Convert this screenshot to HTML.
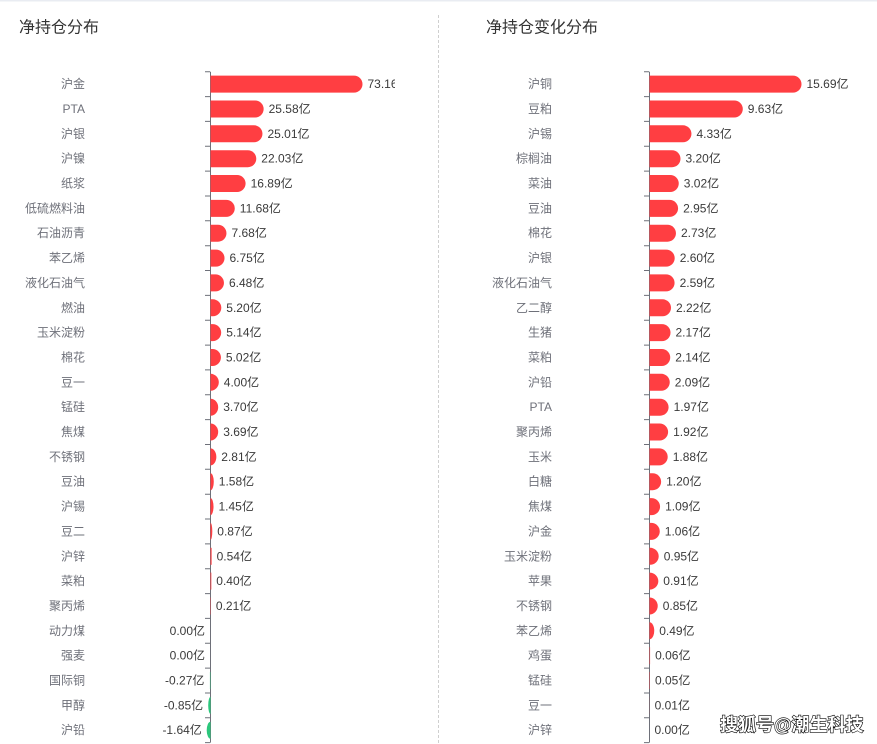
<!DOCTYPE html>
<html><head><meta charset="utf-8"><style>
html,body{margin:0;padding:0;background:#fff;}
svg{display:block;font-family:"Liberation Sans","Noto Sans CJK SC",sans-serif;}
.c{font-size:12px;fill:#6e7079;text-anchor:end;dominant-baseline:central;}
.v{font-size:12px;fill:#3a3a3a;dominant-baseline:central;}
.n{font-size:12px;fill:#3a3a3a;text-anchor:end;dominant-baseline:central;}
.r{fill:#ff3e42;}
.g{fill:#2cc77c;}
.t{font-size:16px;fill:#333;dominant-baseline:central;}
</style></head><body>
<svg width="877" height="744" viewBox="0 0 877 744" xmlns="http://www.w3.org/2000/svg">
<defs><clipPath id="lc"><rect x="0" y="0" width="395" height="744"/></clipPath></defs>
<rect x="0" y="0" width="877" height="744" fill="#fff"/>
<rect x="0" y="0" width="877" height="1.5" fill="#e9ecf2"/>
<line x1="438.5" y1="15" x2="438.5" y2="744" stroke="#cfcfcf" stroke-dasharray="3 2"/>
<text class="t" x="19" y="28">净持仓分布</text>
<text class="t" x="486" y="28">净持仓变化分布</text>

<!-- LEFT AXIS -->
<g stroke="#6e7079" stroke-width="1">
<line x1="210.5" y1="71.7" x2="210.5" y2="742.6"/>
<path d="M205 71.7H210M205 96.6H210M205 121.4H210M205 146.3H210M205 171.1H210M205 196H210M205 220.8H210M205 245.7H210M205 270.5H210M205 295.4H210M205 320.2H210M205 345.1H210M205 369.9H210M205 394.8H210M205 419.6H210M205 444.5H210M205 469.3H210M205 494.2H210M205 519H210M205 543.9H210M205 568.7H210M205 593.6H210M205 618.4H210M205 643.3H210M205 668.1H210M205 693H210M205 717.8H210M205 742.6H210"/>
</g>
<!-- RIGHT AXIS -->
<g stroke="#6e7079" stroke-width="1">
<line x1="649.5" y1="71.7" x2="649.5" y2="742.6"/>
<path d="M644 71.7H649M644 96.6H649M644 121.4H649M644 146.3H649M644 171.1H649M644 196H649M644 220.8H649M644 245.7H649M644 270.5H649M644 295.4H649M644 320.2H649M644 345.1H649M644 369.9H649M644 394.8H649M644 419.6H649M644 444.5H649M644 469.3H649M644 494.2H649M644 519H649M644 543.9H649M644 568.7H649M644 593.6H649M644 618.4H649M644 643.3H649M644 668.1H649M644 693H649M644 717.8H649M644 742.6H649"/>
</g>

<!-- LEFT CATEGORY LABELS -->
<g>
<text class="c" x="85" y="84.1">沪金</text>
<text class="c" x="85" y="109">PTA</text>
<text class="c" x="85" y="133.8">沪银</text>
<text class="c" x="85" y="158.7">沪镍</text>
<text class="c" x="85" y="183.5">纸浆</text>
<text class="c" x="85" y="208.4">低硫燃料油</text>
<text class="c" x="85" y="233.2">石油沥青</text>
<text class="c" x="85" y="258.1">苯乙烯</text>
<text class="c" x="85" y="282.9">液化石油气</text>
<text class="c" x="85" y="307.8">燃油</text>
<text class="c" x="85" y="332.6">玉米淀粉</text>
<text class="c" x="85" y="357.5">棉花</text>
<text class="c" x="85" y="382.3">豆一</text>
<text class="c" x="85" y="407.2">锰硅</text>
<text class="c" x="85" y="432">焦煤</text>
<text class="c" x="85" y="456.9">不锈钢</text>
<text class="c" x="85" y="481.7">豆油</text>
<text class="c" x="85" y="506.6">沪锡</text>
<text class="c" x="85" y="531.4">豆二</text>
<text class="c" x="85" y="556.3">沪锌</text>
<text class="c" x="85" y="581.1">菜粕</text>
<text class="c" x="85" y="606">聚丙烯</text>
<text class="c" x="85" y="630.8">动力煤</text>
<text class="c" x="85" y="655.7">强麦</text>
<text class="c" x="85" y="680.5">国际铜</text>
<text class="c" x="85" y="705.4">甲醇</text>
<text class="c" x="85" y="730.2">沪铅</text>
</g>

<!-- LEFT BARS -->
<g transform="translate(210.5,0)">
<path class="r" transform="translate(0,84.1)" d="M0 -8.5H143.5A8.5 8.5 0 0 1 143.5 8.5H0Z"/>
<path class="r" transform="translate(0,109)" d="M0 -8.5H44.65A8.5 8.5 0 0 1 44.65 8.5H0Z"/>
<path class="r" transform="translate(0,133.8)" d="M0 -8.5H43.46A8.5 8.5 0 0 1 43.46 8.5H0Z"/>
<path class="r" transform="translate(0,158.7)" d="M0 -8.5H37.27A8.5 8.5 0 0 1 37.27 8.5H0Z"/>
<path class="r" transform="translate(0,183.5)" d="M0 -8.5H26.59A8.5 8.5 0 0 1 26.59 8.5H0Z"/>
<path class="r" transform="translate(0,208.4)" d="M0 -8.5H15.77A8.5 8.5 0 0 1 15.77 8.5H0Z"/>
<path class="r" transform="translate(0,233.2)" d="M0 -8.5H7.46A8.5 8.5 0 0 1 7.46 8.5H0Z"/>
<path class="r" transform="translate(0,258.1)" d="M0 -8.5H5.52A8.5 8.5 0 0 1 5.52 8.5H0Z"/>
<path class="r" transform="translate(0,282.9)" d="M0 -8.5H4.96A8.5 8.5 0 0 1 4.96 8.5H0Z"/>
<path class="r" transform="translate(0,307.8)" d="M0 -8.5H2.3A8.5 8.5 0 0 1 2.3 8.5H0Z"/>
<path class="r" transform="translate(0,332.6)" d="M0 -8.5H2.18A8.5 8.5 0 0 1 2.18 8.5H0Z"/>
<path class="r" transform="translate(0,357.5)" d="M0 -8.5H1.93A8.5 8.5 0 0 1 1.93 8.5H0Z"/>
<path class="r" transform="translate(0,382.3)" d="M0 -8.5A8.31 8.5 0 0 1 0 8.5Z"/>
<path class="r" transform="translate(0,407.2)" d="M0 -8.5A7.69 8.5 0 0 1 0 8.5Z"/>
<path class="r" transform="translate(0,432)" d="M0 -8.5A7.67 8.5 0 0 1 0 8.5Z"/>
<path class="r" transform="translate(0,456.9)" d="M0 -8.5A5.84 8.5 0 0 1 0 8.5Z"/>
<path class="r" transform="translate(0,481.7)" d="M0 -8.5A3.28 8.5 0 0 1 0 8.5Z"/>
<path class="r" transform="translate(0,506.6)" d="M0 -8.5A3.01 8.5 0 0 1 0 8.5Z"/>
<path class="r" transform="translate(0,531.4)" d="M0 -8.5A1.81 8.5 0 0 1 0 8.5Z"/>
<rect class="r" x="0" y="547.8" width="1.12" height="17"/>
<rect class="r" x="0" y="572.6" width="0.83" height="17"/>
<rect class="r" x="0" y="597.5" width="0.44" height="17" opacity="0.8"/>
<rect class="g" x="-0.6" y="672" width="0.6" height="17" opacity="0.7"/>
<path class="g" transform="translate(0,705.4)" d="M0 -8.5A2.3 8.5 0 0 0 0 8.5Z"/>
<path class="g" transform="translate(0,730.2)" d="M0 -8.5A3.8 8.5 0 0 0 0 8.5Z"/>
</g>

<!-- LEFT VALUE LABELS -->
<g clip-path="url(#lc)">
<text class="v" x="367.5" y="84.1">73.16亿</text>
<text class="v" x="268.6" y="109">25.58亿</text>
<text class="v" x="267.5" y="133.8">25.01亿</text>
<text class="v" x="261.3" y="158.7">22.03亿</text>
<text class="v" x="250.6" y="183.5">16.89亿</text>
<text class="v" x="239.8" y="208.4">11.68亿</text>
<text class="v" x="231.5" y="233.2">7.68亿</text>
<text class="v" x="229.5" y="258.1">6.75亿</text>
<text class="v" x="229" y="282.9">6.48亿</text>
<text class="v" x="226.3" y="307.8">5.20亿</text>
<text class="v" x="226.2" y="332.6">5.14亿</text>
<text class="v" x="225.9" y="357.5">5.02亿</text>
<text class="v" x="223.8" y="382.3">4.00亿</text>
<text class="v" x="223.2" y="407.2">3.70亿</text>
<text class="v" x="223.2" y="432">3.69亿</text>
<text class="v" x="221.3" y="456.9">2.81亿</text>
<text class="v" x="218.8" y="481.7">1.58亿</text>
<text class="v" x="218.5" y="506.6">1.45亿</text>
<text class="v" x="217.3" y="531.4">0.87亿</text>
<text class="v" x="216.6" y="556.3">0.54亿</text>
<text class="v" x="216.3" y="581.1">0.40亿</text>
<text class="v" x="215.9" y="606">0.21亿</text>
<text class="n" x="205" y="630.8">0.00亿</text>
<text class="n" x="205" y="655.7">0.00亿</text>
<text class="n" x="204.4" y="680.5">-0.27亿</text>
<text class="n" x="203.2" y="705.4">-0.85亿</text>
<text class="n" x="201.8" y="730.2">-1.64亿</text>
</g>

<!-- RIGHT CATEGORY LABELS -->
<g>
<text class="c" x="552" y="84.1">沪铜</text>
<text class="c" x="552" y="109">豆粕</text>
<text class="c" x="552" y="133.8">沪锡</text>
<text class="c" x="552" y="158.7">棕榈油</text>
<text class="c" x="552" y="183.5">菜油</text>
<text class="c" x="552" y="208.4">豆油</text>
<text class="c" x="552" y="233.2">棉花</text>
<text class="c" x="552" y="258.1">沪银</text>
<text class="c" x="552" y="282.9">液化石油气</text>
<text class="c" x="552" y="307.8">乙二醇</text>
<text class="c" x="552" y="332.6">生猪</text>
<text class="c" x="552" y="357.5">菜粕</text>
<text class="c" x="552" y="382.3">沪铅</text>
<text class="c" x="552" y="407.2">PTA</text>
<text class="c" x="552" y="432">聚丙烯</text>
<text class="c" x="552" y="456.9">玉米</text>
<text class="c" x="552" y="481.7">白糖</text>
<text class="c" x="552" y="506.6">焦煤</text>
<text class="c" x="552" y="531.4">沪金</text>
<text class="c" x="552" y="556.3">玉米淀粉</text>
<text class="c" x="552" y="581.1">苹果</text>
<text class="c" x="552" y="606">不锈钢</text>
<text class="c" x="552" y="630.8">苯乙烯</text>
<text class="c" x="552" y="655.7">鸡蛋</text>
<text class="c" x="552" y="680.5">锰硅</text>
<text class="c" x="552" y="705.4">豆一</text>
<text class="c" x="552" y="730.2">沪锌</text>
</g>

<!-- RIGHT BARS -->
<g transform="translate(649.5,0)">
<path class="r" transform="translate(0,84.1)" d="M0 -8.5H143.5A8.5 8.5 0 0 1 143.5 8.5H0Z"/>
<path class="r" transform="translate(0,109)" d="M0 -8.5H84.8A8.5 8.5 0 0 1 84.8 8.5H0Z"/>
<path class="r" transform="translate(0,133.8)" d="M0 -8.5H33.45A8.5 8.5 0 0 1 33.45 8.5H0Z"/>
<path class="r" transform="translate(0,158.7)" d="M0 -8.5H22.5A8.5 8.5 0 0 1 22.5 8.5H0Z"/>
<path class="r" transform="translate(0,183.5)" d="M0 -8.5H20.76A8.5 8.5 0 0 1 20.76 8.5H0Z"/>
<path class="r" transform="translate(0,208.4)" d="M0 -8.5H20.08A8.5 8.5 0 0 1 20.08 8.5H0Z"/>
<path class="r" transform="translate(0,233.2)" d="M0 -8.5H17.95A8.5 8.5 0 0 1 17.95 8.5H0Z"/>
<path class="r" transform="translate(0,258.1)" d="M0 -8.5H16.69A8.5 8.5 0 0 1 16.69 8.5H0Z"/>
<path class="r" transform="translate(0,282.9)" d="M0 -8.5H16.59A8.5 8.5 0 0 1 16.59 8.5H0Z"/>
<path class="r" transform="translate(0,307.8)" d="M0 -8.5H13.01A8.5 8.5 0 0 1 13.01 8.5H0Z"/>
<path class="r" transform="translate(0,332.6)" d="M0 -8.5H12.52A8.5 8.5 0 0 1 12.52 8.5H0Z"/>
<path class="r" transform="translate(0,357.5)" d="M0 -8.5H12.23A8.5 8.5 0 0 1 12.23 8.5H0Z"/>
<path class="r" transform="translate(0,382.3)" d="M0 -8.5H11.75A8.5 8.5 0 0 1 11.75 8.5H0Z"/>
<path class="r" transform="translate(0,407.2)" d="M0 -8.5H10.59A8.5 8.5 0 0 1 10.59 8.5H0Z"/>
<path class="r" transform="translate(0,432)" d="M0 -8.5H10.1A8.5 8.5 0 0 1 10.1 8.5H0Z"/>
<path class="r" transform="translate(0,456.9)" d="M0 -8.5H9.71A8.5 8.5 0 0 1 9.71 8.5H0Z"/>
<path class="r" transform="translate(0,481.7)" d="M0 -8.5H3.13A8.5 8.5 0 0 1 3.13 8.5H0Z"/>
<path class="r" transform="translate(0,506.6)" d="M0 -8.5H2.06A8.5 8.5 0 0 1 2.06 8.5H0Z"/>
<path class="r" transform="translate(0,531.4)" d="M0 -8.5H1.77A8.5 8.5 0 0 1 1.77 8.5H0Z"/>
<path class="r" transform="translate(0,556.3)" d="M0 -8.5H0.7A8.5 8.5 0 0 1 0.7 8.5H0Z"/>
<path class="r" transform="translate(0,581.1)" d="M0 -8.5A8.82 8.5 0 0 1 0 8.5Z"/>
<path class="r" transform="translate(0,606)" d="M0 -8.5A8.23 8.5 0 0 1 0 8.5Z"/>
<path class="r" transform="translate(0,630.8)" d="M0 -8.5A4.75 8.5 0 0 1 0 8.5Z"/>
<rect class="r" x="0" y="647.2" width="0.6" height="17" opacity="0.8"/>
<rect class="r" x="0" y="672" width="0.5" height="17" opacity="0.7"/>
<rect class="r" x="0" y="696.9" width="0.2" height="17" opacity="0.4"/>
</g>

<!-- RIGHT VALUE LABELS -->
<g>
<text class="v" x="806.5" y="84.1">15.69亿</text>
<text class="v" x="747.8" y="109">9.63亿</text>
<text class="v" x="696.5" y="133.8">4.33亿</text>
<text class="v" x="685.5" y="158.7">3.20亿</text>
<text class="v" x="683.8" y="183.5">3.02亿</text>
<text class="v" x="683.1" y="208.4">2.95亿</text>
<text class="v" x="681" y="233.2">2.73亿</text>
<text class="v" x="679.7" y="258.1">2.60亿</text>
<text class="v" x="679.6" y="282.9">2.59亿</text>
<text class="v" x="676" y="307.8">2.22亿</text>
<text class="v" x="675.5" y="332.6">2.17亿</text>
<text class="v" x="675.2" y="357.5">2.14亿</text>
<text class="v" x="674.8" y="382.3">2.09亿</text>
<text class="v" x="673.6" y="407.2">1.97亿</text>
<text class="v" x="673.1" y="432">1.92亿</text>
<text class="v" x="672.7" y="456.9">1.88亿</text>
<text class="v" x="666.1" y="481.7">1.20亿</text>
<text class="v" x="665.1" y="506.6">1.09亿</text>
<text class="v" x="664.8" y="531.4">1.06亿</text>
<text class="v" x="663.7" y="556.3">0.95亿</text>
<text class="v" x="663.3" y="581.1">0.91亿</text>
<text class="v" x="662.7" y="606">0.85亿</text>
<text class="v" x="659.2" y="630.8">0.49亿</text>
<text class="v" x="655.1" y="655.7">0.06亿</text>
<text class="v" x="655" y="680.5">0.05亿</text>
<text class="v" x="654.6" y="705.4">0.01亿</text>
<text class="v" x="654.5" y="730.2">0.00亿</text>
</g>

<!-- WATERMARK -->
<text x="720" y="725" font-size="18" font-weight="bold" fill="#fff" stroke="#000" stroke-width="1.2" paint-order="stroke" dominant-baseline="central" style="font-family:'Liberation Sans','Noto Sans CJK SC',sans-serif;">搜狐号@潮生科技</text>
</svg>
</body></html>
